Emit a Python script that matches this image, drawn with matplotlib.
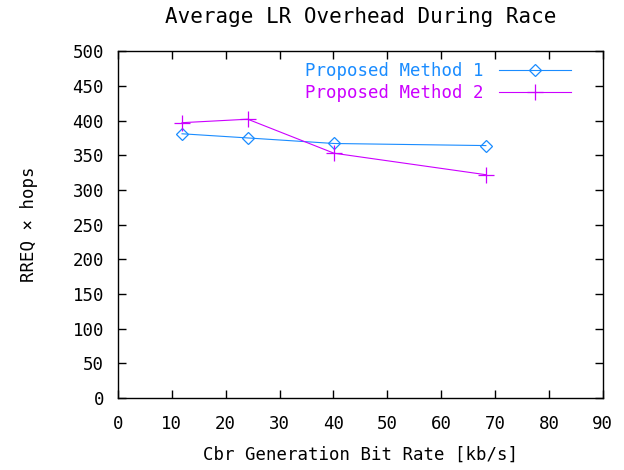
import matplotlib
matplotlib.use('Agg')
import matplotlib.pyplot as plt

# values
rate = [11.9, 24.1, 40.1, 68.3]
method1 = [381, 375, 367, 364]
method2 = [397, 402, 353, 322]
series_names = ['Proposed Method 1', 'Proposed Method 2']
x_ticks = list(range(0, 91, 10))
y_ticks = list(range(0, 501, 50))

blue = '#1a8cff'
magenta = '#cc00ff'

plt.rcParams['font.family'] = ['DejaVu Sans Mono']
plt.rcParams['font.size'] = 12.5

fig = plt.figure(figsize=(6.24, 4.70), dpi=100)
ax = fig.add_axes([0.189, 0.153, 0.777, 0.738])

ax.plot(rate, method1, color=blue, lw=0.8, marker='D', ms=6, mfc='none', mec=blue, mew=0.9,
        label=series_names[0])
ax.plot(rate, method2, color=magenta, lw=0.8, marker='+', ms=11, mew=0.9,
        label=series_names[1])

ax.set_xlim(0, 90)
ax.set_ylim(0, 500)
ax.set_xticks(x_ticks)
ax.set_yticks(y_ticks)
ax.tick_params(direction='in', length=6, width=1, top=True, right=True)
ax.tick_params(axis='x', pad=12)
ax.tick_params(axis='y', pad=10)
for s in ax.spines.values():
    s.set_linewidth(1)

ax.set_title('Average LR Overhead During Race', pad=20)
ax.set_xlabel('Cbr Generation Bit Rate [kb/s]', labelpad=9)
ax.set_ylabel('RREQ \u00d7 hops', labelpad=25)

leg = ax.legend(loc='upper right', frameon=False, markerfirst=False, handlelength=4.1,
                labelcolor='linecolor', borderaxespad=0, labelspacing=0.25,
                handletextpad=0.9, bbox_to_anchor=(0.948, 0.99))

fig.savefig('out.png', dpi=100)
